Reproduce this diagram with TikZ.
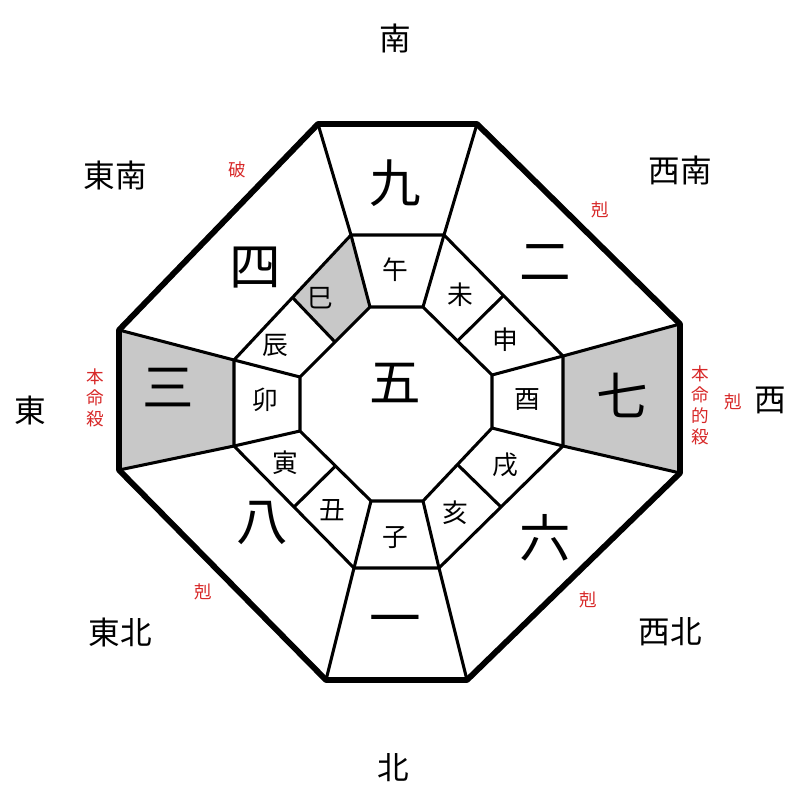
\documentclass[tikz,border=0pt]{standalone}
\usepackage{fontspec}
\usetikzlibrary{calc}
\newfontfamily\cjk{Noto Sans CJK JP}
\definecolor{kokured}{RGB}{215,40,40}
\definecolor{cellgray}{RGB}{200,200,200}
\tikzset{
  bignum/.style={font=\cjk\fontsize{44}{44}\selectfont},
  branch/.style={font=\cjk\fontsize{22}{22}\selectfont},
  dirlabel/.style={font=\cjk\fontsize{27}{27}\selectfont},
  redmark/.style={font=\cjk\fontsize{15}{18}\selectfont,text=kokured,align=center},
  thin/.style={line width=2.6pt,line join=round},
  thick/.style={line width=5pt,line join=round}
}
\begin{document}
\begin{tikzpicture}[x=0.3mm,y=-0.3mm]
\useasboundingbox (0,0) rectangle (800,800);
% outer octagon
\coordinate (o1) at (318,124); \coordinate (o2) at (477,124);
\coordinate (o3) at (680,324); \coordinate (o4) at (680,473);
\coordinate (o5) at (467,680); \coordinate (o6) at (326,680);
\coordinate (o7) at (119,470); \coordinate (o8) at (119,330);
% middle octagon
\coordinate (m1) at (351,235); \coordinate (m2) at (444,235);
\coordinate (m3) at (563,356); \coordinate (m4) at (563,446);
\coordinate (m5) at (439,568); \coordinate (m6) at (354,568);
\coordinate (m7) at (234,446); \coordinate (m8) at (234,360);
% inner octagon
\coordinate (i1) at (370,307); \coordinate (i2) at (423,307);
\coordinate (i3) at (492,375); \coordinate (i4) at (492,428);
\coordinate (i5) at (423,501); \coordinate (i6) at (371,501);
\coordinate (i7) at (300,431); \coordinate (i8) at (300,377);
% ring dividers
\coordinate (a1) at ($(m2)!0.5!(m3)$); \coordinate (b1) at ($(i2)!0.5!(i3)$);
\coordinate (a2) at ($(m4)!0.5!(m5)$); \coordinate (b2) at ($(i4)!0.5!(i5)$);
\coordinate (a3) at ($(m6)!0.5!(m7)$); \coordinate (b3) at ($(i6)!0.5!(i7)$);
\coordinate (a4) at ($(m8)!0.5!(m1)$); \coordinate (b4) at ($(i8)!0.5!(i1)$);
% shaded cells
\fill[cellgray] (m3) -- (o3) -- (o4) -- (m4) -- cycle;
\fill[cellgray] (m8) -- (o8) -- (o7) -- (m7) -- cycle;
\fill[cellgray] (i1) -- (m1) -- (a4) -- (b4) -- cycle;
% lines
\draw[thin] (i1) -- (i2) -- (i3) -- (i4) -- (i5) -- (i6) -- (i7) -- (i8) -- cycle;
\draw[thin] (m1) -- (m2) -- (m3) -- (m4) -- (m5) -- (m6) -- (m7) -- (m8) -- cycle;
\foreach \k in {1,...,8} \draw[thin] (i\k) -- (m\k);
\foreach \k in {1,...,4} \draw[thin] (a\k) -- (b\k);
\foreach \k in {1,...,8} \draw[thin] (m\k) -- (o\k);
\draw[thick] (o1) -- (o2) -- (o3) -- (o4) -- (o5) -- (o6) -- (o7) -- (o8) -- cycle;
% stars
\node[bignum] (n9) at (395,183) {九};
\node[bignum] (n2) at (545,263) {二};
\node[bignum] (n7) at (622,395) {七};
\node[bignum] (n6) at (545,538) {六};
\node[bignum] (n1) at (395,626) {一};
\node[bignum] (n8) at (262,523) {八};
\node[bignum] (n3) at (168,388) {三};
\node[bignum] (n4) at (255,268) {四};
\node[bignum] (n5) at (395,383) {五};
% branches
\node[branch] (zWu) at (395,270) {午};
\node[branch] (zWei) at (460,295) {未};
\node[branch] (zShen) at (505,340) {申};
\node[branch] (zYou) at (527,400) {酉};
\node[branch] (zXu) at (505,465) {戌};
\node[branch] (zHai) at (455,513) {亥};
\node[branch] (zZi) at (395,538) {子};
\node[branch] (zChou) at (332,510) {丑};
\node[branch] (zYin) at (285,463) {寅};
\node[branch] (zMao) at (265,400) {卯};
\node[branch] (zChen) at (275,345) {辰};
\node[branch] (zSi) at (320,298) {巳};
% directions
\node[dirlabel] (dS) at (395,38) {南};
\node[dirlabel] (dSE) at (115,175) {東南};
\node[dirlabel] (dSW) at (680,170) {西南};
\node[dirlabel] (dE) at (30,410) {東};
\node[dirlabel] (dW) at (770,400) {西};
\node[dirlabel] (dNE) at (120,632) {東北};
\node[dirlabel] (dNW) at (670,632) {西北};
\node[dirlabel] (dN) at (393,768) {北};
% marks
\node[redmark] (rHa) at (237,170) {破};
\node[redmark] (rK1) at (600,210) {剋};
\node[redmark] (rK2) at (733,402) {剋};
\node[redmark] (rK3) at (203,592) {剋};
\node[redmark] (rK4) at (588,600) {剋};
\node[redmark] (rHon) at (95,398) {本\\命\\殺};
\node[redmark] (rHonT) at (700,405) {本\\命\\的\\殺};
\end{tikzpicture}
\end{document}
